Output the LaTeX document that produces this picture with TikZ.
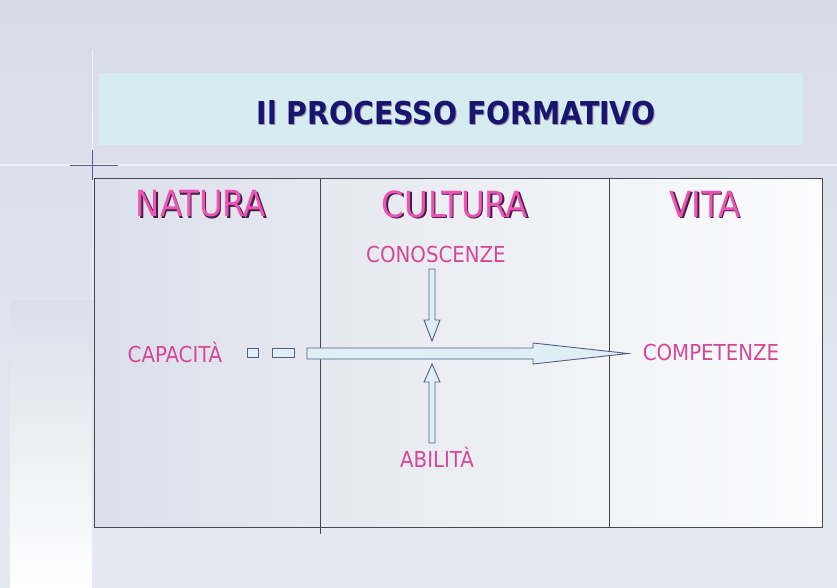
\documentclass[tikz,border=0pt]{standalone}
\usepackage{fontspec}
\setmainfont{DejaVu Sans Condensed}
\usetikzlibrary{positioning}
\definecolor{sfondo}{RGB}{216,220,232}
\definecolor{sfondochiaro}{RGB}{230,233,242}
\definecolor{fascia}{RGB}{214,236,240}
\definecolor{blunotte}{RGB}{22,22,112}
\definecolor{rosa}{RGB}{214,72,150}
\definecolor{rosacapo}{RGB}{236,84,178}
\definecolor{ombra}{RGB}{70,30,70}
\definecolor{bordo}{RGB}{70,72,84}
\definecolor{freccia}{RGB}{84,94,130}
\definecolor{frecciafill}{RGB}{224,238,246}
\tikzset{
  capo/.style={font=\fontsize{36}{36}\selectfont, text=rosacapo, inner sep=0.75pt},
  capoombra/.style={font=\fontsize{36}{36}\selectfont, text=ombra, inner sep=0.75pt},
  voce/.style={font=\fontsize{22}{22}\selectfont, text=rosa, inner sep=0.75pt},
  blocco/.style={draw=freccia, fill=frecciafill, line width=0.9pt, line join=miter},
}
\begin{document}
\begin{tikzpicture}[x=1pt,y=1pt,yscale=-1]
\useasboundingbox (0,0) rectangle (837,587);
% sfondo
\shade[top color=sfondo, bottom color=sfondochiaro] (0,0) rectangle (837,587);
\shade[top color=sfondo!80!sfondochiaro, bottom color=white] (10,300) rectangle (92,587);
% linee guida
\draw[white, line width=1.5pt, opacity=0.6] (0,165) -- (837,165);
\draw[white, line width=1pt, opacity=0.6] (92,50) -- (92,300);
\draw[blunotte!70, line width=0.6pt] (70,165) -- (118,165);
\draw[blunotte!70, line width=0.6pt] (92,150) -- (92,180);
% fascia titolo
\fill[fascia] (99,73) rectangle (803,145);
\node[font=\bfseries\fontsize{31.5}{31.5}\selectfont, text=ombra!50] (titoloombra) at (457,114) {Il PROCESSO FORMATIVO};
\node[font=\bfseries\fontsize{31.5}{31.5}\selectfont, text=blunotte] (titolo) at (456,113) {Il PROCESSO FORMATIVO};
% tabella
\shade[left color=sfondo!90!white, right color=white!92!sfondo] (94,178) rectangle (822,527);
\draw[bordo, line width=0.8pt] (94,178) rectangle (822,527);
\draw[bordo, line width=0.8pt] (320,178) -- (320,534);
\draw[bordo, line width=0.8pt] (609,178) -- (609,527);
% Text Node
\node[capoombra] (naturaombra) at (202.5,205.5) {NATURA};
\node[capo] (natura) at (201,204) {NATURA};
% Text Node
\node[capoombra] (culturaombra) at (456.5,205.5) {CULTURA};
\node[capo] (cultura) at (455,204) {CULTURA};
% Text Node
\node[capoombra] (vitaombra) at (706.5,205.5) {VITA};
\node[capo] (vita) at (705,204) {VITA};
% Text Node
\node[voce] (capacita) at (175,352) {CAPACITÀ};
\node[voce] (conoscenze) at (436,254) {CONOSCENZE};
\node[voce] (competenze) at (711,352) {COMPETENZE};
\node[voce] (abilita) at (437,457) {ABILITÀ};
% trattini e freccia orizzontale
\draw[blocco] (247,348.5) rectangle (258,357);
\draw[blocco] (272,348.5) rectangle (294,357);
\draw[blocco] (307,348) -- (533,348) -- (533,343) -- (628,353.5) -- (533,364) -- (533,359) -- (307,359) -- cycle;
% freccia dall'alto
\draw[blocco] (429,269) -- (435,269) -- (435,320) -- (440,320) -- (432,341) -- (424,320) -- (429,320) -- cycle;
% freccia dal basso
\draw[blocco] (429,443) -- (435,443) -- (435,382) -- (440,382) -- (432,364) -- (424,382) -- (429,382) -- cycle;
\end{tikzpicture}
\end{document}
